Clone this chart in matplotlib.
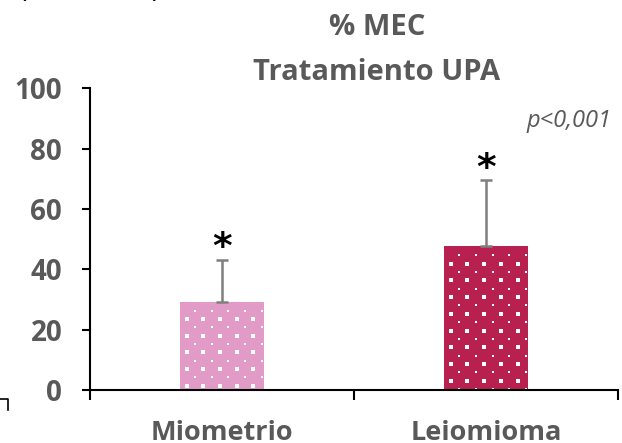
import numpy as np
import matplotlib
matplotlib.use("Agg")
import matplotlib.pyplot as plt
from matplotlib.lines import Line2D
from matplotlib.transforms import blended_transform_factory

plt.rcParams['font.family'] = ['Open Sans', 'DejaVu Sans']

categories = ["Miometrio", "Leiomioma"]
values = [29.3, 47.6]
errors = [13.9, 21.9]
colors = ["#e29ac7", "#b8214f"]
yticks = [0, 20, 40, 60, 80, 100]
title_lines = ["% MEC", "Tratamiento UPA"]
pvalue = "p<0,001"
grey = "#595959"

W, H = 622, 443
fig = plt.figure(figsize=(W / 100, H / 100), dpi=100)
ax = fig.add_axes([90 / W, 53 / H, 528.4 / W, 301.7 / H])
ax.set_xlim(-0.5, 1.5)
ax.set_ylim(0, 100)

x = list(range(len(categories)))
bars = ax.bar(x, values, width=0.319, color=colors, linewidth=0, zorder=2)

# white dotted fill: staggered lattice in pixel space, clipped to each bar
step = 16.7
inv = ax.transData.inverted()
for b in bars:
    (x0, y0), (x1, y1) = ax.transData.transform(
        [(b.get_x(), 0), (b.get_x() + b.get_width(), b.get_height())])
    top_px = max(y0, y1)
    pts_full, pts_half = [], []
    row = 0
    yy = top_px - 9.0
    while yy > min(y0, y1):
        off = 6.6 if row % 2 == 1 else 6.6 + step / 2
        xs = np.arange(x0 + off, x1, step)
        (pts_full if row % 2 == 1 else pts_half).extend((xv, yy) for xv in xs)
        yy -= step / 2
        row += 1
    for pts, ms in ((pts_full, 2.2), (pts_half, 1.6)):
        if pts:
            d = inv.transform(np.array(pts))
            ax.scatter(d[:, 0], d[:, 1], s=ms ** 2, marker="s", color="white",
                       linewidths=0, zorder=2.5, clip_path=b)

ax.errorbar(x, values, yerr=[[0] * len(errors), errors], fmt="none",
            ecolor="#7f7f7f", elinewidth=1.8, capsize=4.5, capthick=1.8, zorder=3)
for xi, v, e in zip(x, values, errors):
    ax.text(xi, v + e + 0.5, "*", ha="center", va="baseline", fontsize=27,
            fontweight="bold", color="black", family="DejaVu Sans")

ax.set_yticks(yticks)
ax.set_xticks([-0.5, 0.5, 1.5])
ax.set_xticklabels([])
ax.tick_params(axis="x", length=7, width=1.5, direction="out")
ax.tick_params(axis="y", length=6, width=1.5, direction="out", pad=14,
               labelsize=20, labelcolor=grey)
for lab in ax.get_yticklabels():
    lab.set_fontweight("bold")

# category names under the bars
trans = blended_transform_factory(ax.transData, ax.transAxes)
for xi, name in zip(x, categories):
    ax.text(xi, -50 / 301.7, name, transform=trans, ha="center",
            va="baseline", fontsize=19.5, fontweight="bold", color=grey)

for s in ["top", "right"]:
    ax.spines[s].set_visible(False)
for s in ["left", "bottom"]:
    ax.spines[s].set_linewidth(1.5)
    ax.spines[s].set_color("black")

fig.text(377 / W, 1 - 35 / H, title_lines[0], ha="center", va="baseline",
         fontsize=21, fontweight="bold", color=grey)
fig.text(377 / W, 1 - 80 / H, title_lines[1], ha="center", va="baseline",
         fontsize=21, fontweight="bold", color=grey)
fig.text(612 / W, 1 - 127 / H, pvalue, ha="right", va="baseline", fontsize=17,
         style="italic", color=grey)

# clipped caption brackets along the top edge and corner line at lower left
fig.text(19 / W, 1 + 3 / H, "(", ha="left", va="baseline", fontsize=20, color="black")
fig.text(159 / W, 1 + 3 / H, ")", ha="right", va="baseline", fontsize=20, color="black")
fig.add_artist(Line2D([0, 8 / W, 8 / W], [1 - 399 / H, 1 - 399 / H, 1 - 410 / H],
                      transform=fig.transFigure, color="black", lw=1.2))

fig.savefig("out.png", dpi=100)
